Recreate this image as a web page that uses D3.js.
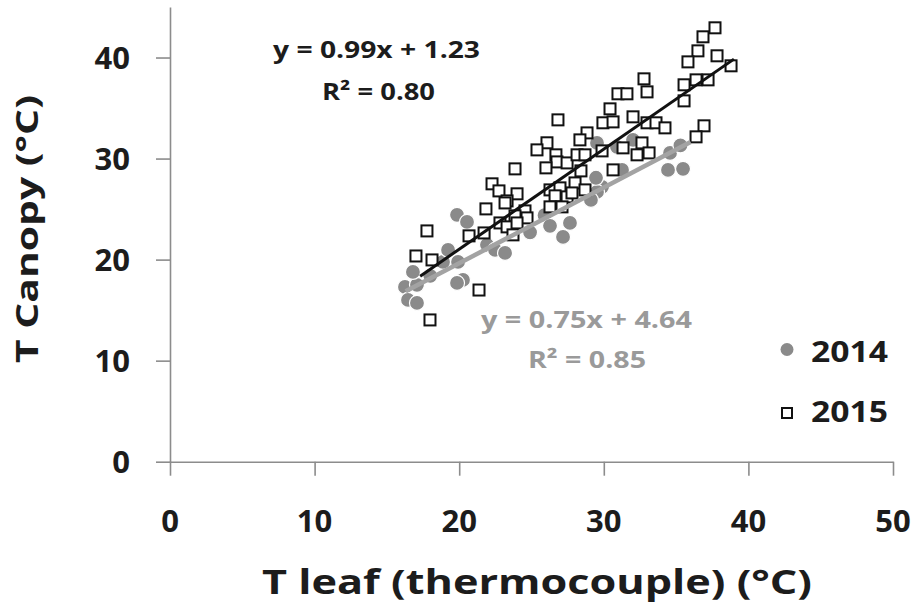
<!DOCTYPE html>
<html>
<head>
<meta charset="utf-8">
<script src="https://cdn.jsdelivr.net/npm/d3@7"></script>
<style>
  body { margin: 0; background: #fff; }
  text { font-family: "Open Sans", sans-serif; font-weight: bold; }
</style>
</head>
<body>
<div id="container"></div>
<script>
// ---- data ----
const x2014 = [16.25, 17.08, 16.46, 17.08, 16.8, 18.0, 18.88, 19.23, 19.85, 20.54, 19.92, 20.26, 19.85,
  21.92, 22.48, 23.17, 24.9, 25.9, 26.28, 27.66, 27.18, 29.53, 30.91, 32.02, 31.26, 29.88, 29.53,
  29.11, 29.46, 34.58, 34.44, 35.48, 35.3];
const y2014 = [17.3, 17.5, 16.01, 15.71, 18.78, 18.4, 19.77, 20.96, 24.43, 23.73, 19.77, 17.99, 17.69,
  21.46, 20.96, 20.66, 22.7, 24.4, 23.34, 23.63, 22.25, 31.55, 31.16, 31.85, 28.88, 27.2, 26.7,
  25.91, 28.1, 30.56, 28.88, 28.98, 31.3];

const x2015 = [37.69, 36.86, 36.51, 35.82, 37.83, 38.8, 32.78, 32.99, 30.98, 31.6, 36.38, 37.21, 35.55,
  35.55, 30.43, 29.94, 30.64, 32.02, 32.99, 33.61, 34.23, 36.93, 36.38, 31.33, 32.64, 32.3, 33.13,
  28.84, 26.83, 28.35, 26.07, 25.38, 26.69, 26.76, 27.46, 28.15, 28.7, 26.0, 23.86, 28.42, 22.27,
  22.75, 24.0, 23.31, 24.55, 21.85, 26.28, 26.97, 26.63, 27.46, 28.01, 28.7, 26.28, 27.11, 23.86,
  24.69, 17.77, 17.01, 18.12, 20.68, 21.72, 22.82, 23.31, 24.0, 23.72, 23.17, 21.37, 17.98, 30.64,
  29.88, 27.8];
const y2015 = [42.94, 42.05, 40.66, 39.57, 40.17, 39.18, 37.89, 36.6, 36.41, 36.41, 37.79, 37.79, 37.3,
  35.71, 34.92, 33.54, 33.63, 34.13, 33.54, 33.54, 33.04, 33.24, 32.15, 31.06, 31.55, 30.37, 30.56,
  32.54, 33.83, 31.85, 31.56, 30.86, 30.37, 29.67, 29.57, 30.37, 30.37, 29.08, 28.98, 28.78, 27.5,
  26.8, 26.51, 25.81, 24.82, 25.02, 26.9, 27.1, 26.31, 26.21, 27.59, 26.9, 25.22, 25.22, 24.33,
  24.13, 22.84, 20.36, 19.97, 22.35, 22.64, 23.63, 23.24, 23.63, 22.45, 25.61, 16.99, 14.03, 28.88,
  30.76, 26.6];

// trendlines as printed on the chart
const trend2014 = { slope: 0.75, intercept: 4.64, from: 16.3, to: 36.0 };
const trend2015 = { slope: 0.99, intercept: 1.23, from: 17.3, to: 39.0 };

const xTicks = [0, 10, 20, 30, 40, 50];
const yTicks = [0, 10, 20, 30, 40];
const seriesNames = ['2014', '2015'];

// ---- layout ----
const W = 911, H = 609;
const svg = d3.select('#container').append('svg')
  .attr('width', W).attr('height', H);

const xScale = d3.scaleLinear().domain([0, 50]).range([170, 893]);
const yScale = d3.scaleLinear().domain([0, 45]).range([461.7, 7]);

const axisColor = '#8c8c8c';
const textColor = '#1c1c1c';

// axes
const xAxis = d3.axisBottom(xScale).tickValues(xTicks).tickSize(14).tickSizeOuter(0).tickFormat('');
const yAxis = d3.axisLeft(yScale).tickValues(yTicks).tickSize(14).tickSizeOuter(0).tickFormat('');

const gx = svg.append('g').attr('transform', `translate(0,${yScale(0)})`).call(xAxis);
const gy = svg.append('g').attr('transform', `translate(${xScale(0)},0)`).call(yAxis);
[gx, gy].forEach(g => {
  g.selectAll('path, line').attr('stroke', axisColor).attr('stroke-width', 1.6);
});

// tick labels
svg.append('g').selectAll('text').data(xTicks).join('text')
  .attr('x', d => xScale(d)).attr('y', 532)
  .attr('text-anchor', 'middle')
  .attr('font-size', 31).attr('fill', textColor)
  .text(d => d);

svg.append('g').selectAll('text').data(yTicks).join('text')
  .attr('x', 130).attr('y', d => yScale(d) + 11)
  .attr('text-anchor', 'end')
  .attr('font-size', 31).attr('fill', textColor)
  .text(d => d);

// axis titles
svg.append('text')
  .attr('x', 537).attr('y', 594)
  .attr('text-anchor', 'middle')
  .attr('font-size', 34).attr('fill', textColor)
  .attr('textLength', 550).attr('lengthAdjust', 'spacingAndGlyphs')
  .text('T leaf (thermocouple) (°C)');

svg.append('text')
  .attr('transform', 'translate(38,229) rotate(-90)')
  .attr('text-anchor', 'middle')
  .attr('font-size', 31).attr('fill', textColor)
  .attr('textLength', 268).attr('lengthAdjust', 'spacingAndGlyphs')
  .text('T Canopy (°C)');

// points
const d2014 = x2014.map((x, i) => ({ x, y: y2014[i] }));
const d2015 = x2015.map((x, i) => ({ x, y: y2015[i] }));

svg.append('g').selectAll('circle').data(d2014).join('circle')
  .attr('cx', d => xScale(d.x)).attr('cy', d => yScale(d.y))
  .attr('r', 7.5)
  .attr('fill', '#8a8a8a').attr('stroke', '#fff').attr('stroke-width', 1.2);

const sq = 11;
svg.append('g').selectAll('rect').data(d2015).join('rect')
  .attr('x', d => xScale(d.x) - sq / 2).attr('y', d => yScale(d.y) - sq / 2)
  .attr('width', sq).attr('height', sq)
  .attr('fill', '#fff').attr('stroke', '#111').attr('stroke-width', 2);

// trendlines
const line = d3.line().x(d => xScale(d[0])).y(d => yScale(d[1]));
const trendPts = t => [[t.from, t.slope * t.from + t.intercept], [t.to, t.slope * t.to + t.intercept]];

svg.append('path').attr('d', line(trendPts(trend2014)))
  .attr('stroke', '#a3a3a3').attr('stroke-width', 4.5).attr('fill', 'none');
svg.append('path').attr('d', line(trendPts(trend2015)))
  .attr('stroke', '#111').attr('stroke-width', 3).attr('fill', 'none');

// equations
const eq = (x, y, w, txt, col) => svg.append('text')
  .attr('x', x).attr('y', y)
  .attr('font-size', 24).attr('fill', col)
  .attr('textLength', w).attr('lengthAdjust', 'spacingAndGlyphs')
  .text(txt);

eq(273, 58, 207, 'y = 0.99x + 1.23', '#1c1c1c');
eq(322, 100, 113, 'R² = 0.80', '#1c1c1c');
eq(481, 328, 211, 'y = 0.75x + 4.64', '#9a9a9a');
eq(528, 368, 118, 'R² = 0.85', '#9a9a9a');

// legend
const leg = svg.append('g');
leg.append('circle').attr('cx', 787).attr('cy', 349.5).attr('r', 6.5).attr('fill', '#8a8a8a');
leg.append('rect').attr('x', 782).attr('y', 408).attr('width', 10).attr('height', 10)
  .attr('fill', '#fff').attr('stroke', '#111').attr('stroke-width', 2);
leg.selectAll('text.lab').data(seriesNames).join('text')
  .attr('class', 'lab')
  .attr('x', 811).attr('y', (d, i) => i === 0 ? 362 : 422)
  .attr('font-size', 28).attr('fill', textColor)
  .attr('textLength', 77).attr('lengthAdjust', 'spacingAndGlyphs')
  .text(d => d);
</script>
</body>
</html>
